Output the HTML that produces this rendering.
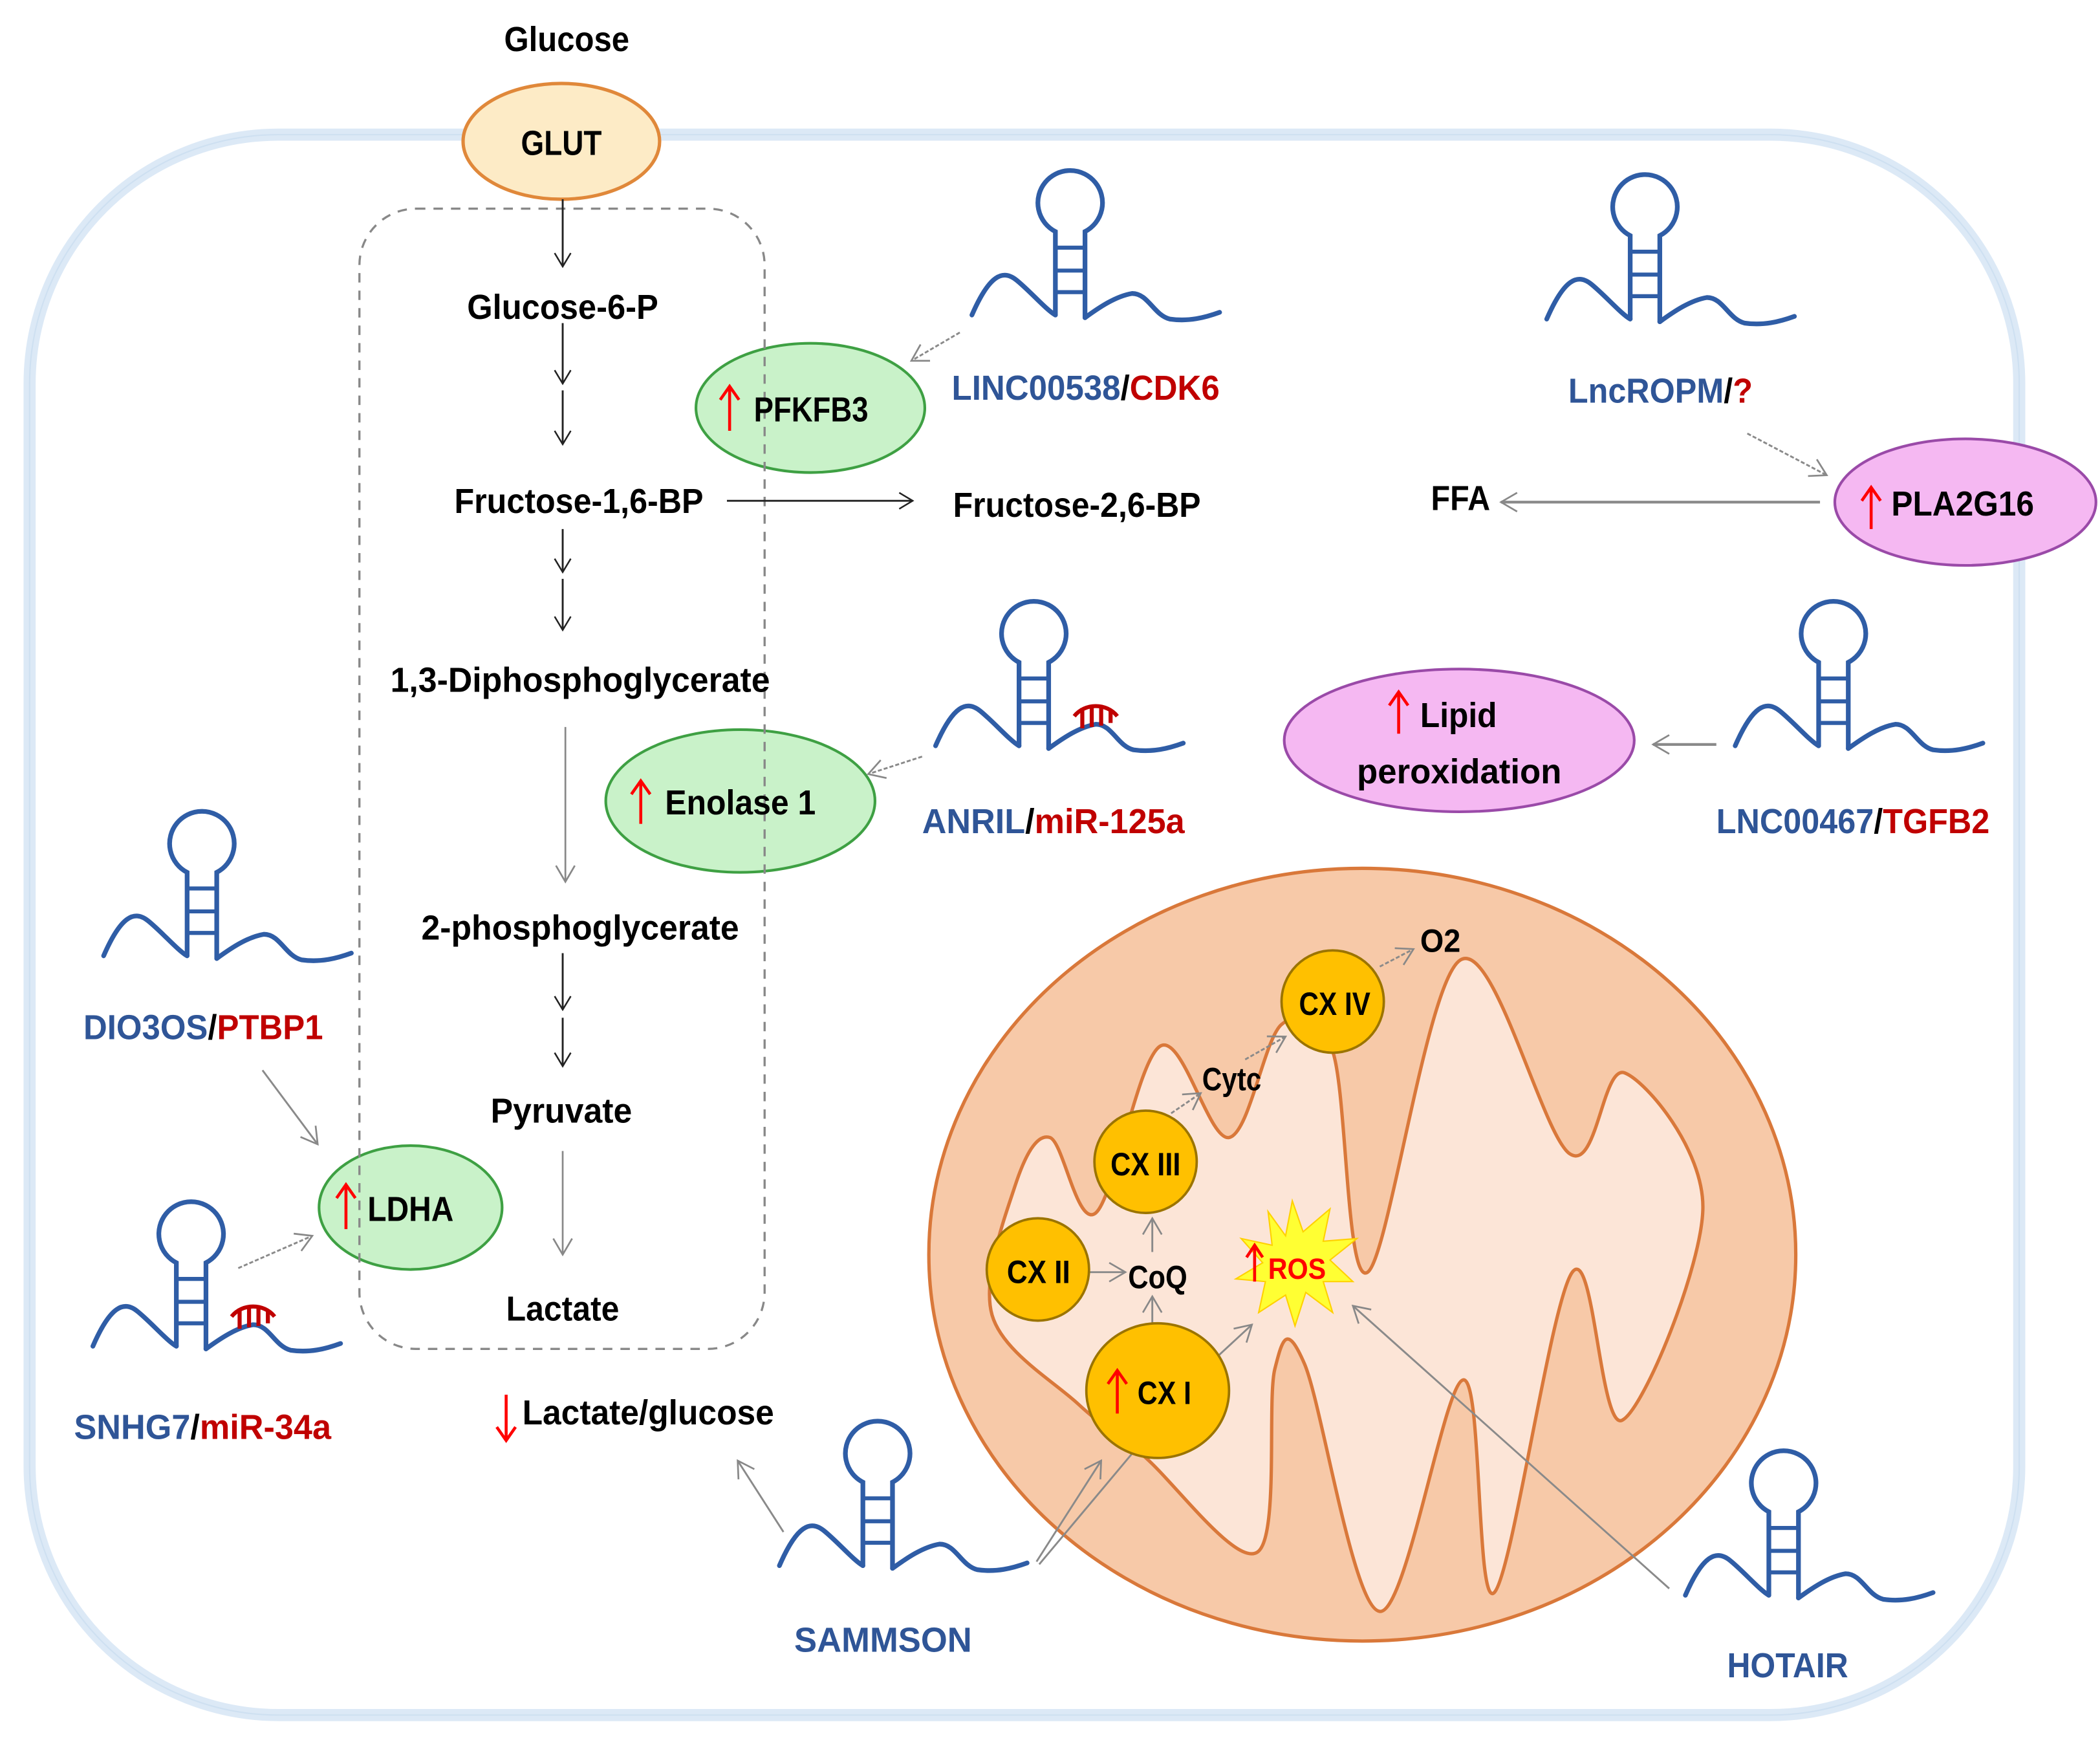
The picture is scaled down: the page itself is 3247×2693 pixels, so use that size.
<!DOCTYPE html>
<html><head><meta charset="utf-8"><style>
html,body{margin:0;padding:0;background:#fff}
svg{display:block}
text{font-family:"Liberation Sans Narrow","Liberation Sans",sans-serif;font-weight:bold}
</style></head><body>
<svg xmlns="http://www.w3.org/2000/svg" width="3247" height="2693" viewBox="0 0 1560 1294" preserveAspectRatio="none">
<defs>
<marker id="ab" markerWidth="14" markerHeight="14" refX="11" refY="7" orient="auto" markerUnits="userSpaceOnUse"><path d="M1,1 L11,7 L1,13" fill="none" stroke="#222" stroke-width="1.2"/></marker>
<marker id="ag" markerWidth="16" markerHeight="16" refX="13" refY="8" orient="auto" markerUnits="userSpaceOnUse"><path d="M1,1 L13,8 L1,15" fill="none" stroke="#888" stroke-width="1.3"/></marker>
<g id="rna" fill="none" stroke="#2f5da6" stroke-width="3.5" stroke-linecap="round">
<path d="M-73,0 C-60,-30 -50,-34 -40,-26 C-30,-18 -18,-4 -11,0"/>
<path d="M-11,0 L-11,-62 A24,24 0 1 1 11,-62 L11,2"/>
<path d="M11,2 C22,-6 34,-14 46,-16 C58,-16 62,0 74,3 C88,5 100,2 111,-2"/>
<path d="M-11,-50 H11 M-11,-33 H11 M-11,-17 H11" stroke-width="3"/>
</g>
<g id="mir" fill="none" stroke="#c00000" stroke-width="3">
<path d="M30,-22 C38,-32 54,-32 62,-22"/>
<path d="M36,-28 V-13 M43,-30 V-14 M50,-30 V-15 M57,-27 V-17"/>
</g>
</defs>

<rect x="22" y="100" width="1478" height="1174" rx="185" fill="none" stroke="#dce9f6" stroke-width="9"/>
<rect x="22" y="100" width="1478" height="1174" rx="185" fill="none" stroke="#c8dcf0" stroke-width="1" opacity="0.7"/>

<text x="421" y="38" font-size="26" text-anchor="middle" textLength="93" lengthAdjust="spacingAndGlyphs">Glucose</text>
<ellipse cx="417" cy="105" rx="73" ry="43" fill="#fdebc6" stroke="#e0883a" stroke-width="2.5"/>
<text x="417" y="115" font-size="26" text-anchor="middle" textLength="60" lengthAdjust="spacingAndGlyphs">GLUT</text>

<ellipse cx="602" cy="303" rx="85" ry="48" fill="#c9f2c9" stroke="#3ea043" stroke-width="2"/>
<ellipse cx="550" cy="595" rx="100" ry="53" fill="#c9f2c9" stroke="#3ea043" stroke-width="2"/>
<ellipse cx="305" cy="897" rx="68" ry="46" fill="#c9f2c9" stroke="#3ea043" stroke-width="2"/>
<ellipse cx="1460" cy="373" rx="97" ry="47" fill="#f5b8f2" stroke="#9a4aa8" stroke-width="2"/>
<ellipse cx="1084" cy="550" rx="130" ry="53" fill="#f5b8f2" stroke="#9a4aa8" stroke-width="2"/>

<rect x="267" y="155" width="301" height="847" rx="42" fill="none" stroke="#888" stroke-width="1.6" stroke-dasharray="7,6"/>

<g stroke="#222" stroke-width="1.4" marker-end="url(#ab)">
<line x1="418" y1="148" x2="418" y2="198"/>
<line x1="418" y1="240" x2="418" y2="285"/>
<line x1="418" y1="290" x2="418" y2="330"/>
<line x1="418" y1="393" x2="418" y2="425"/>
<line x1="418" y1="430" x2="418" y2="468"/>
<line x1="540" y1="372" x2="678" y2="372"/>
<line x1="418" y1="708" x2="418" y2="750"/>
<line x1="418" y1="756" x2="418" y2="792"/>
</g>
<g stroke="#888" stroke-width="1.3" marker-end="url(#ag)">
<line x1="420" y1="540" x2="420" y2="655"/>
<line x1="418" y1="855" x2="418" y2="932"/>
</g>

<text x="418" y="237" font-size="26" text-anchor="middle" textLength="142" lengthAdjust="spacingAndGlyphs">Glucose-6-P</text>
<text x="430" y="381" font-size="26" text-anchor="middle" textLength="185" lengthAdjust="spacingAndGlyphs">Fructose-1,6-BP</text>
<text x="800" y="384" font-size="26" text-anchor="middle" textLength="184" lengthAdjust="spacingAndGlyphs">Fructose-2,6-BP</text>
<text x="431" y="514" font-size="26" text-anchor="middle" textLength="282" lengthAdjust="spacingAndGlyphs">1,3-Diphosphoglycerate</text>
<text x="431" y="698" font-size="26" text-anchor="middle" textLength="236" lengthAdjust="spacingAndGlyphs">2-phosphoglycerate</text>
<text x="417" y="834" font-size="26" text-anchor="middle" textLength="105" lengthAdjust="spacingAndGlyphs">Pyruvate</text>
<text x="418" y="981" font-size="26" text-anchor="middle" textLength="84" lengthAdjust="spacingAndGlyphs">Lactate</text>

<g stroke="#ff0000" stroke-width="2.2" fill="none">
<path d="M542,320 V287 M535,297 L542,287 L549,297"/>
<path d="M476,612 V580 M469,590 L476,580 L483,590"/>
<path d="M257,913 V880 M250,890 L257,880 L264,890"/>
<path d="M1390,393 V362 M1383,372 L1390,362 L1397,372"/>
<path d="M1039,545 V514 M1032,524 L1039,514 L1046,524"/>
<path d="M376,1070 V1036 M369,1060 L376,1070 L383,1060"/>
</g>
<text x="560" y="313" font-size="26" textLength="85" lengthAdjust="spacingAndGlyphs">PFKFB3</text>
<text x="494" y="605" font-size="26" textLength="112" lengthAdjust="spacingAndGlyphs">Enolase 1</text>
<text x="273" y="907" font-size="26" textLength="64" lengthAdjust="spacingAndGlyphs">LDHA</text>
<text x="1405" y="383" font-size="26" textLength="106" lengthAdjust="spacingAndGlyphs">PLA2G16</text>
<text x="1055" y="540" font-size="26" textLength="57" lengthAdjust="spacingAndGlyphs">Lipid</text>
<text x="1008" y="582" font-size="26" textLength="152" lengthAdjust="spacingAndGlyphs">peroxidation</text>
<text x="1063" y="379" font-size="26" textLength="44" lengthAdjust="spacingAndGlyphs">FFA</text>
<text x="388" y="1058" font-size="26" textLength="187" lengthAdjust="spacingAndGlyphs">Lactate/glucose</text>

<use href="#rna" x="795" y="234"/>
<use href="#rna" x="1222" y="237"/>
<use href="#rna" x="768" y="554"/>
<use href="#mir" x="768" y="554"/>
<use href="#rna" x="1362" y="554"/>
<use href="#rna" x="150" y="710"/>
<use href="#rna" x="142" y="1000"/>
<use href="#mir" x="142" y="1000"/>
<use href="#rna" x="652" y="1163"/>
<use href="#rna" x="1325" y="1185"/>

<g font-size="26">
<text x="707" y="297" textLength="199" lengthAdjust="spacingAndGlyphs"><tspan fill="#2f5597">LINC00538</tspan><tspan fill="#000">/</tspan><tspan fill="#c00000">CDK6</tspan></text>
<text x="1165" y="299" textLength="137" lengthAdjust="spacingAndGlyphs"><tspan fill="#2f5597">LncROPM</tspan><tspan fill="#000">/</tspan><tspan fill="#c00000">?</tspan></text>
<text x="685" y="619" textLength="195" lengthAdjust="spacingAndGlyphs"><tspan fill="#2f5597">ANRIL</tspan><tspan fill="#000">/</tspan><tspan fill="#c00000">miR-125a</tspan></text>
<text x="1275" y="619" textLength="203" lengthAdjust="spacingAndGlyphs"><tspan fill="#2f5597">LNC00467</tspan><tspan fill="#000">/</tspan><tspan fill="#c00000">TGFB2</tspan></text>
<text x="62" y="772" textLength="178" lengthAdjust="spacingAndGlyphs"><tspan fill="#2f5597">DIO3OS</tspan><tspan fill="#000">/</tspan><tspan fill="#c00000">PTBP1</tspan></text>
<text x="55" y="1069" textLength="191" lengthAdjust="spacingAndGlyphs"><tspan fill="#2f5597">SNHG7</tspan><tspan fill="#000">/</tspan><tspan fill="#c00000">miR-34a</tspan></text>
<text x="590" y="1227" fill="#2f5597" textLength="132" lengthAdjust="spacingAndGlyphs">SAMMSON</text>
<text x="1283" y="1246" fill="#2f5597" textLength="90" lengthAdjust="spacingAndGlyphs">HOTAIR</text>
</g>

<g stroke="#8a8a8a" stroke-width="1.4" fill="none" marker-end="url(#ag)">
<line x1="713" y1="247" x2="677" y2="268" stroke-dasharray="3,1.5"/>
<line x1="1298" y1="322" x2="1357" y2="353" stroke-dasharray="3,1.5"/>
<line x1="1352" y1="373" x2="1115" y2="373" stroke-width="2"/>
<line x1="1275" y1="553" x2="1228" y2="553" stroke-width="2"/>
<line x1="685" y1="562" x2="645" y2="575" stroke-dasharray="3,1.5"/>
<line x1="195" y1="795" x2="236" y2="850"/>
<line x1="177" y1="942" x2="232" y2="918" stroke-dasharray="3,1.5"/>
<line x1="582" y1="1138" x2="548" y2="1085"/>
</g>

<ellipse cx="1012" cy="932" rx="322" ry="287" fill="#f7c9a8" stroke="#d9783a" stroke-width="2.5"/>
<path id="inner" fill="#fce5d7" stroke="#d9783a" stroke-width="2.5" d=""/>

<g stroke="#8a8a8a" stroke-width="1.4" fill="none">
<line x1="770" y1="1160" x2="818" y2="1085" marker-end="url(#ag)"/>
<line x1="772" y1="1162" x2="845" y2="1075"/>
<line x1="904" y1="1008" x2="930" y2="984" marker-end="url(#ag)"/>
<line x1="808" y1="945" x2="836" y2="945" marker-end="url(#ag)"/>
<line x1="856" y1="930" x2="856" y2="905" marker-end="url(#ag)"/>
<line x1="856" y1="985" x2="856" y2="963" marker-end="url(#ag)"/>
<line x1="870" y1="827" x2="892" y2="812" stroke-dasharray="3,1.5" marker-end="url(#ag)"/>
<line x1="925" y1="787" x2="955" y2="770" stroke-dasharray="3,1.5" marker-end="url(#ag)"/>
<line x1="1025" y1="718" x2="1050" y2="705" stroke-dasharray="3,1.5" marker-end="url(#ag)"/>
<line x1="1240" y1="1180" x2="1005" y2="970" marker-end="url(#ag)"/>
</g>

<g fill="#ffc000" stroke="#9b7400" stroke-width="1.8">
<circle cx="990" cy="744" r="38"/>
<circle cx="851" cy="863" r="38"/>
<circle cx="771" cy="943" r="38"/>
<ellipse cx="860" cy="1033" rx="53" ry="50"/>
</g>
<g font-size="24">
<text x="965" y="754" textLength="53" lengthAdjust="spacingAndGlyphs">CX IV</text>
<text x="825" y="873" textLength="52" lengthAdjust="spacingAndGlyphs">CX III</text>
<text x="748" y="953" textLength="47" lengthAdjust="spacingAndGlyphs">CX II</text>
<text x="845" y="1043" textLength="40" lengthAdjust="spacingAndGlyphs">CX I</text>
<text x="893" y="810" textLength="44" lengthAdjust="spacingAndGlyphs">Cytc</text>
<text x="1055" y="707" textLength="30" lengthAdjust="spacingAndGlyphs">O2</text>
<text x="838" y="957" textLength="44" lengthAdjust="spacingAndGlyphs">CoQ</text>
</g>
<polygon fill="#ffff33" stroke="#ffd000" stroke-width="1" points="960,892 968,915 988,898 983,922 1008,920 988,936 1005,952 983,952 990,975 970,960 962,985 955,962 935,975 940,952 918,950 938,938 922,920 945,925 942,900 955,918"/>
<g stroke="#ff0000" stroke-width="2.2" fill="none">
<path d="M932,952 V925 M926,934 L932,925 L938,934"/>
<path d="M830,1050 V1018 M823,1028 L830,1018 L837,1028"/>
</g>
<text x="942" y="950" font-size="22" fill="#ff0000" textLength="43" lengthAdjust="spacingAndGlyphs">ROS</text>
</svg>
<script>
(function(){
var p=[[801,1043],[737,977],[754,881],[780,845],[814,901],[862,777],[913,845],[952,761],[990,781],[1016,945],[1085,713],[1166,857],[1207,797],[1265,897],[1205,1055],[1168,945],[1110,1183],[1087,1025],[1025,1197],[969,1013],[947,1017],[934,1153],[849,1081]];
var n=p.length,t=6;
var d="M"+p[0][0]+","+p[0][1];
for(var i=0;i<n;i++){
 var p0=p[(i-1+n)%n],p1=p[i],p2=p[(i+1)%n],p3=p[(i+2)%n];
 var c1=[p1[0]+(p2[0]-p0[0])/t,p1[1]+(p2[1]-p0[1])/t];
 var c2=[p2[0]-(p3[0]-p1[0])/t,p2[1]-(p3[1]-p1[1])/t];
 d+=" C"+c1[0]+","+c1[1]+" "+c2[0]+","+c2[1]+" "+p2[0]+","+p2[1];
}
document.getElementById("inner").setAttribute("d",d+"Z");
})();
</script>
</body></html>
